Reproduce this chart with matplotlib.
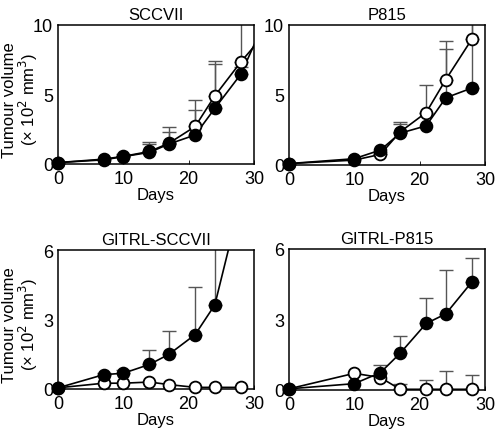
import numpy as np
import matplotlib
matplotlib.use("Agg")
import matplotlib.pyplot as plt

plt.rcParams['font.family'] = ['Liberation Sans', 'DejaVu Sans']
plt.rcParams['font.size'] = 12

# ---- data ----
titles = ["SCCVII", "P815", "GITRL-SCCVII", "GITRL-P815"]

days_sccvii = [0, 7, 10, 14, 17, 21, 24, 28, 31]
filled_sccvii = [0.1, 0.3, 0.53, 0.84, 1.44, 2.09, 4.0, 6.47, 9.6]
open_sccvii = [0.1, 0.35, 0.55, 0.9, 1.5, 2.7, 4.9, 7.35, 9.0]
filled_top_sccvii = [0.1, 0.3, 0.6, 1.45, 2.28, 3.9, 7.2, 7.0, 9.6]
open_top_sccvii = [0.1, 0.35, 0.7, 1.55, 2.64, 4.6, 7.4, 11.0, 9.0]

days_p815 = [0, 10, 14, 17, 21, 24, 28]
filled_p815 = [0.1, 0.45, 1.07, 2.27, 2.8, 4.8, 5.5]
open_p815 = [0.1, 0.35, 0.76, 2.36, 3.75, 6.1, 9.0]
filled_top_p815 = [0.1, 0.45, 1.07, 2.9, 2.8, 8.3, 10.5]
open_top_p815 = [0.1, 0.35, 0.9, 3.08, 5.7, 8.83, 10.5]

days_gsccvii = [0, 7, 10, 14, 17, 21, 24, 28]
filled_gsccvii = [0.05, 0.62, 0.68, 1.06, 1.5, 2.35, 3.63, 8.2]
open_gsccvii = [0.05, 0.25, 0.25, 0.3, 0.19, 0.07, 0.07, 0.07]
filled_top_gsccvii = [0.05, 0.7, 0.83, 1.7, 2.5, 4.4, 7.0, 10.0]
open_top_gsccvii = [0.05, 0.25, 0.25, 0.3, 0.19, 0.07, 0.07, 0.07]

days_gp815 = [0, 10, 14, 17, 21, 24, 28]
filled_gp815 = [0.05, 0.27, 0.74, 1.56, 2.83, 3.24, 4.6]
open_gp815 = [0.05, 0.71, 0.53, 0.03, 0.03, 0.03, 0.03]
filled_top_gp815 = [0.05, 0.27, 1.05, 2.3, 3.9, 5.12, 5.63]
open_top_gp815 = [0.05, 0.71, 0.53, 0.24, 0.41, 0.81, 0.63]

panels = [
    (days_sccvii, filled_sccvii, open_sccvii, filled_top_sccvii, open_top_sccvii, 10, [0, 5, 10]),
    (days_p815, filled_p815, open_p815, filled_top_p815, open_top_p815, 10, [0, 5, 10]),
    (days_gsccvii, filled_gsccvii, open_gsccvii, filled_top_gsccvii, open_top_gsccvii, 6, [0, 3, 6]),
    (days_gp815, filled_gp815, open_gp815, filled_top_gp815, open_top_gp815, 6, [0, 3, 6]),
]

W, H = 497, 435
fig = plt.figure(figsize=(W / 100, H / 100), dpi=100)
boxes = [
    (58, 254, 26, 165),
    (289, 485, 26, 166),
    (58, 254, 251, 390),
    (289, 485, 250, 391),
]

for i, ((d, fv, ov, ft, ot, ymax, yt), (l, r, t, b)) in enumerate(zip(panels, boxes)):
    ax = fig.add_axes([l / W, (H - b) / H, (r - l) / W, (b - t) / H])
    d = np.array(d, float)
    fv = np.array(fv); ov = np.array(ov)
    ft = np.array(ft); ot = np.array(ot)
    ax.set_xlim(0, 30)
    ax.set_ylim(0, ymax)
    # error bars (upper only)
    for vals, tops, z in ((ov, ot, 1), (fv, ft, 2)):
        up = np.clip(tops - vals, 0, None)
        m = up > 0.02
        ax.errorbar(d[m], vals[m], yerr=[np.zeros(m.sum()), up[m]], fmt='none',
                    ecolor='#555555', elinewidth=1.0, capsize=5, capthick=1.0, zorder=z)
    # lines
    ax.plot(d, ov, color='black', lw=1.2, zorder=3)
    ax.plot(d, fv, color='black', lw=1.2, zorder=4)
    # markers (visible only in range)
    mo = (d <= 30) & (ov <= ymax)
    mf = (d <= 30) & (fv <= ymax)
    ax.plot(d[mo], ov[mo], 'o', ms=8.5, mfc='white', mec='black', mew=1.3,
            clip_on=False, zorder=5)
    ax.plot(d[mf], fv[mf], 'o', ms=8.5, mfc='black', mec='black', mew=1.3,
            clip_on=False, zorder=6)
    ax.set_xticks([0, 10, 20, 30])
    ax.set_yticks(yt)
    ax.tick_params(axis='x', direction='in', length=3, width=0.6, pad=4.5, labelsize=13)
    ax.tick_params(axis='y', direction='in', length=0, pad=3.5, labelsize=13)
    for s in ax.spines.values():
        s.set_linewidth(1.1)
    ax.set_title(titles[i], fontsize=12, pad=4)
    ax.set_xlabel("Days", fontsize=12, labelpad=0)
    if i % 2 == 0:
        ax.set_ylabel("Tumour volume\n(\u00d7 10$^2$ mm$^3$)", fontsize=12,
                      linespacing=1.0)
        ax.yaxis.set_label_coords(-0.092, 0.47)

fig.savefig("out.png", dpi=100)
